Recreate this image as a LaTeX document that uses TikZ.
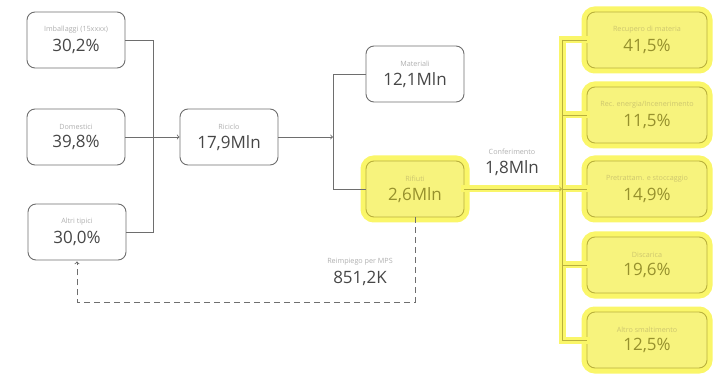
\documentclass[tikz,border=0pt]{standalone}
\usepackage{fontspec}
\setmainfont{Open Sans}
\usetikzlibrary{positioning}
\definecolor{boxgray}{RGB}{110,110,110}
\definecolor{txtgray}{RGB}{70,70,70}
\definecolor{lblgray}{RGB}{175,175,175}
\definecolor{hlfill}{RGB}{247,243,125}
\definecolor{hlhalo}{RGB}{250,246,105}
\definecolor{hlline}{RGB}{185,176,60}
\definecolor{hltext}{RGB}{150,144,45}
\definecolor{hllbl}{RGB}{205,198,110}
\newcommand{\boxtext}[2]{{\fontsize{7.2}{8}\selectfont\color{lblgray}#1}\\[5pt]{\fontsize{17}{18}\selectfont #2}}
\newcommand{\hlboxtext}[2]{{\fontsize{7.2}{8}\selectfont\color{hllbl}#1}\\[5pt]{\fontsize{17}{18}\selectfont #2}}

\begin{document}
\begin{tikzpicture}[x=1pt, y=-1pt,
  box/.style={draw=boxgray, line width=0.9pt, rounded corners=8pt, minimum width=98pt, minimum height=56pt, align=center, text=txtgray, inner sep=0pt},
  hlbox/.style={box, draw=hlline, fill=hlfill, text=hltext, preaction={draw=hlhalo, line width=11pt}},
  link/.style={draw=boxgray, line width=0.9pt}]
\useasboundingbox (0,0) rectangle (715,374);
\node[box] (imb) at (76,40) {\boxtext{Imballaggi (15xxxx)}{30,2\%}};
\node[box] (dom) at (76,137) {\boxtext{Domestici}{39,8\%}};
\node[box] (alt) at (77,232) {\boxtext{Altri tipici}{30,0\%}};
\node[box] (ric) at (229,137) {\boxtext{Riciclo}{17,9Mln}};
\node[box] (mat) at (415,74) {\boxtext{Materiali}{12,1Mln}};
\node[hlbox] (rif) at (415,189) {\hlboxtext{Rifiuti}{2,6Mln}};
\node[hlbox, minimum width=120pt] (rec) at (647,40) {\hlboxtext{Recupero di materia}{41,5\%}};
\node[hlbox, minimum width=120pt] (ene) at (647,115) {\hlboxtext{Rec. energia/Incenerimento}{11,5\%}};
\node[hlbox, minimum width=120pt] (pre) at (647,189) {\hlboxtext{Pretrattam. e stoccaggio}{14,9\%}};
\node[hlbox, minimum width=120pt] (dis) at (647,265) {\hlboxtext{Discarica}{19,6\%}};
\node[hlbox, minimum width=120pt] (alsm) at (647,340) {\hlboxtext{Altro smaltimento}{12,5\%}};
\node[align=center, text=txtgray] (conf) at (512,162) {\boxtext{Conferimento}{1,8Mln}};
\node[align=center, text=txtgray] (reimp) at (360,272) {\boxtext{Reimpiego per MPS}{851,2K}};
\coordinate (j1) at (153,137);
\coordinate (j2) at (333,137);
\coordinate (bus) at (562,189);
\draw[link] (imb.east) -| (j1);
\draw[link] (alt.east) -| (j1);
\draw[link, ->] (dom.east) -- (ric.west);
\draw[link, ->] (ric.east) -- (j2);
\draw[link] (mat.west) -| (j2);
\draw[link] (rif.west) -| (j2);
\draw[link, dash pattern=on 6pt off 4pt, ->, shorten >=1pt] (rif.south) -- ++(0,85) -| (alt.south);
\draw[hlhalo, line width=7pt, line cap=rect] (rec.west -| bus) -- (alsm.west -| bus) (rif.east) -- (bus)
  (rec.west -| bus) -- (rec.west) (ene.west -| bus) -- (ene.west) (pre.west -| bus) -- (pre.west)
  (dis.west -| bus) -- (dis.west) (alsm.west -| bus) -- (alsm.west);
\draw[hlline, line width=0.9pt] (rec.west -| bus) -- (alsm.west -| bus)
  (rec.west -| bus) -- (rec.west) (ene.west -| bus) -- (ene.west) (pre.west -| bus) -- (pre.west)
  (dis.west -| bus) -- (dis.west) (alsm.west -| bus) -- (alsm.west);
\draw[hlline, line width=0.9pt, ->] (rif.east) -- (bus);
\end{tikzpicture}
\end{document}
